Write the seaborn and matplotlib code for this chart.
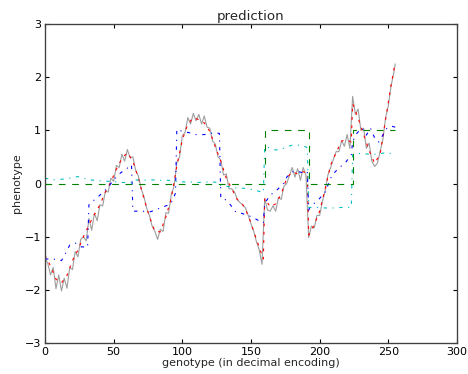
import numpy as np
import pandas as pd
import seaborn as sns
import matplotlib.pyplot as plt

# measured phenotype (noisy), sampled every 2 genotypes
measured_x = list(range(0, 256, 2)) + [255]
measured_y = [
    -1.40, -1.50, -1.72, -1.58, -1.98, -1.72, -2.02, -1.78, -1.97, -1.58,
    -1.62, -1.28, -1.38, -1.05, -1.00, -1.08, -0.66, -0.88, -0.56, -0.70,
    -0.40, -0.42, -0.14, -0.16, 0.10, 0.04, 0.34, 0.30, 0.55, 0.42,
    0.64, 0.48, 0.50, 0.25, 0.14, -0.10, -0.24, -0.46, -0.60, -0.80,
    -0.90, -1.05, -0.86, -0.90, -0.55, -0.56, -0.20, -0.05, 0.40, 0.50,
    0.90, 0.96, 1.24, 1.12, 1.32, 1.18, 1.30, 1.12, 1.27, 1.06,
    1.04, 0.80, 0.74, 0.50, 0.44, 0.16, 0.18, -0.10, -0.10, -0.16,
    -0.30, -0.36, -0.40, -0.46, -0.60, -0.76, -0.90, -1.10, -1.25, -1.52,
    -0.28, -0.50, -0.52, -0.42, -0.52, -0.26, -0.30, -0.05, 0.00, 0.15,
    0.30, 0.12, 0.28, 0.06, 0.30, 0.16, -1.02, -0.80, -0.84, -0.60,
    -0.60, -0.34, -0.14, 0.16, 0.30, 0.46, 0.60, 0.60, 0.80, 0.70,
    0.92, 0.66, 1.64, 1.30, 1.40, 1.00, 1.04, 0.66, 0.76, 0.42,
    0.32, 0.38, 0.60, 0.82, 1.24, 1.46, 1.84, 2.08, 2.25,
]

# smooth prediction (red dashed)
red_x = [0, 4, 8, 12, 16, 20, 24, 28, 32, 36, 40, 44, 48, 52, 56, 60, 64, 68, 72, 76,
         80, 84, 88, 92, 96, 100, 104, 108, 112, 116, 120, 124, 128, 132, 136, 140, 144,
         148, 152, 156, 159, 160, 164, 168, 172, 176, 180, 184, 188, 191, 192, 196, 200,
         204, 208, 212, 216, 220, 223, 224, 228, 232, 236, 240, 244, 248, 252, 255]
red_y = [-1.35, -1.55, -1.80, -1.87, -1.73, -1.45, -1.25, -1.00, -0.78, -0.58, -0.40,
         -0.16, 0.03, 0.27, 0.47, 0.58, 0.42, 0.10, -0.28, -0.62, -0.90, -0.91, -0.63,
         -0.27, 0.33, 0.82, 1.12, 1.24, 1.20, 1.14, 0.98, 0.69, 0.42, 0.10, -0.10, -0.30,
         -0.40, -0.60, -0.90, -1.20, -1.42, -0.28, -0.44, -0.38, -0.20, 0.10, 0.22, 0.18,
         0.22, 0.20, -0.97, -0.78, -0.52, -0.10, 0.35, 0.58, 0.80, 0.82, 0.78, 1.50, 1.23,
         0.92, 0.62, 0.38, 0.55, 1.20, 1.85, 2.28]

# blue dash-dot model
blue_x = [0, 6, 12, 15, 18, 22, 26, 31, 32, 34, 40, 46, 50, 55, 60, 63, 64, 70, 77, 84,
          88, 91, 93, 95, 96, 100, 106, 110, 116, 120, 124, 127, 128, 130, 135, 139, 142,
          151, 155, 159, 160, 164, 169, 175, 176, 180, 185, 188, 191, 192, 193, 199, 204,
          209, 214, 219, 223, 224, 226, 228, 231, 234, 237, 240, 243, 246, 249, 252, 255]
blue_y = [-1.42, -1.42, -1.45, -1.31, -1.16, -1.12, -1.19, -1.20, -0.40, -0.35, -0.22,
          -0.07, 0.07, 0.20, 0.29, 0.35, -0.52, -0.52, -0.53, -0.46, -0.42, -0.40, -0.31,
          -0.18, 1.02, 0.98, 0.95, 0.92, 0.92, 0.94, 0.96, 0.94, -0.27, -0.27, -0.40, -0.54,
          -0.55, -0.63, -0.69, -0.74, -0.37, -0.22, -0.12, 0.03, 0.12, 0.22, 0.22, 0.20,
          0.22, -0.50, -0.44, -0.31, -0.16, 0.16, 0.29, 0.40, 0.54, 0.78, 0.91, 0.97, 1.04,
          0.91, 1.04, 0.86, 0.78, 0.91, 1.04, 1.08, 1.06]

# cyan dash-dot model
cyan_x = [0, 6, 12, 18, 24, 28, 32, 40, 48, 56, 63, 64, 70, 77, 84, 90, 95, 96, 104, 112,
          120, 127, 128, 134, 140, 146, 152, 159, 160, 164, 168, 172, 176, 180, 185, 190,
          191, 192, 198, 204, 210, 216, 223, 224, 230, 236, 242, 248, 255]
cyan_y = [0.10, 0.07, 0.08, 0.10, 0.13, 0.10, 0.07, 0.05, 0.04, 0.02, 0.02, 0.07, 0.06,
          0.07, 0.06, 0.06, 0.05, 0.03, 0.03, 0.02, 0.03, 0.02, -0.04, -0.06, -0.09, -0.09,
          -0.12, -0.17, 0.69, 0.67, 0.63, 0.64, 0.69, 0.72, 0.72, 0.69, 0.66, -0.45, -0.45,
          -0.46, -0.46, -0.45, -0.45, 0.54, 0.57, 0.55, 0.55, 0.58, 0.55]

# green step model
green_x = [0, 160, 192, 224, 255]
green_y = [0, 1, 0, 1, 1]

sns.set_style("white")
plt.rcParams['font.family'] = ['DejaVu Sans']

fig = plt.figure(figsize=(5.85, 4.675), dpi=80)
ax = fig.add_subplot(111)
fig.subplots_adjust(left=45 / 468, right=457 / 468, top=1 - 24 / 374, bottom=1 - 343 / 374)

sns.lineplot(x=measured_x, y=measured_y, ax=ax, color="0.62", lw=1.0, estimator=None)
sns.lineplot(x=red_x, y=red_y, ax=ax, color="red", lw=1.0, estimator=None,
             linestyle=(0, (2.5, 5)))
sns.lineplot(x=blue_x, y=blue_y, ax=ax, color="blue", lw=1.0, estimator=None,
             linestyle=(0, (3, 5, 1, 5)))
sns.lineplot(x=cyan_x, y=cyan_y, ax=ax, color=(0, 0.75, 0.75), lw=1.0, estimator=None,
             linestyle=(0, (3, 5, 1, 5)))
sns.lineplot(x=green_x, y=green_y, ax=ax, color=(0, 0.5, 0), lw=1.0, estimator=None,
             linestyle=(0, (6, 6)), drawstyle="steps-post")

ax.set_xlim(0, 300)
ax.set_ylim(-3, 3)
ax.set_xticks(range(0, 301, 50))
ax.set_yticks(range(-3, 4))
ax.tick_params(direction="in", top=True, right=True, length=4, width=1, labelsize=10,
               colors="black", bottom=True, left=True)
for s in ax.spines.values():
    s.set_color("0.25")
    s.set_linewidth(1.2)
ax.set_title("prediction", fontsize=12, pad=4)
ax.set_xlabel("genotype (in decimal encoding)", fontsize=10, labelpad=1)
ax.set_ylabel("phenotype", fontsize=10, labelpad=2)

plt.savefig("out.png", dpi=80)
